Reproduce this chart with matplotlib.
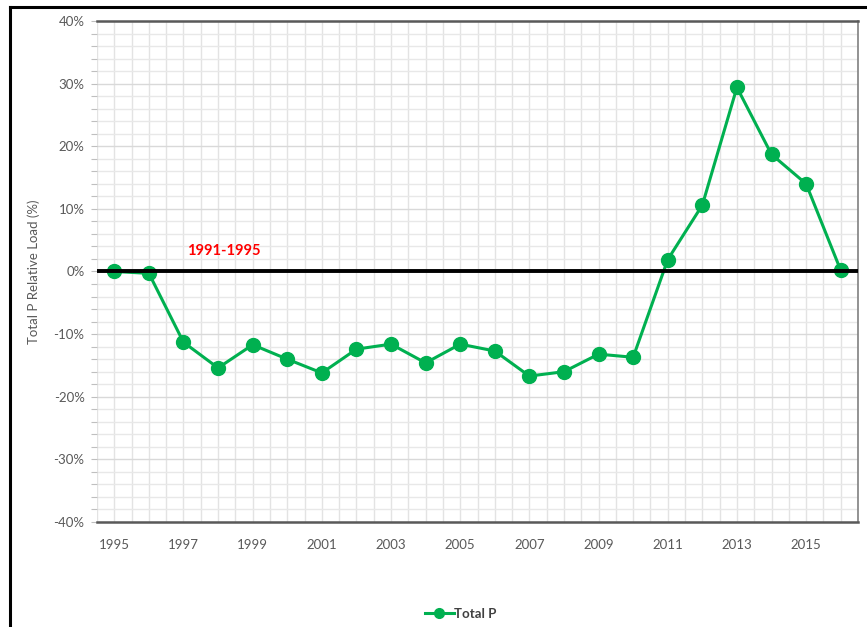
import matplotlib
matplotlib.use("Agg")
import matplotlib.pyplot as plt
from matplotlib.lines import Line2D
from matplotlib.ticker import MultipleLocator, FuncFormatter

plt.rcParams['font.family'] = ['Lato', 'DejaVu Sans']

# relative load vs. the 1991-1995 baseline, in percent
years = list(range(1995, 2017))
total_p = [0.0, -0.3, -11.3, -15.4, -11.7, -14.0, -16.2, -12.4, -11.6, -14.6, -11.6,
           -12.7, -16.7, -16.0, -13.2, -13.7, 1.9, 10.6, 29.4, 18.7, 14.0, 0.2]
tick_years = list(range(1995, 2016, 2))

green = '#00B050'
grey_txt = '#595959'

fig = plt.figure(figsize=(8.67, 6.27), dpi=100)
ax = fig.add_axes([0.1119, 0.1675, 0.8777, 0.799])

ax.plot(years, total_p, color=green, lw=2.2, marker='o', ms=10, zorder=3)
ax.axhline(0, color='black', lw=2.8, zorder=4)
ax.text(1998.15, 3.3, '1991-1995', color='#FF0000', fontsize=10.5,
        fontweight='bold', ha='center', va='center')

ax.set_xlim(1994.5, 2016.5)
ax.set_ylim(-40, 40)
ax.set_xticks(tick_years)
ax.xaxis.set_minor_locator(MultipleLocator(0.5))
ax.yaxis.set_major_locator(MultipleLocator(10))
ax.yaxis.set_minor_locator(MultipleLocator(2))
ax.yaxis.set_major_formatter(FuncFormatter(lambda v, p: f'{v:.0f}%'))

ax.grid(which='both', axis='x', color='#e3e3e3', lw=1)
ax.grid(which='major', axis='y', color='#d9d9d9', lw=1)
ax.grid(which='minor', axis='y', color='#e8e8e8', lw=1)
ax.set_axisbelow(True)

ax.tick_params(axis='x', which='both', length=0, pad=12, labelsize=9.5, labelcolor=grey_txt)
ax.tick_params(axis='y', which='both', length=4, width=0.8, color='#bfbfbf',
               pad=5, labelsize=9.5, labelcolor=grey_txt)

for side in ['top', 'bottom']:
    ax.spines[side].set_color('#595959')
    ax.spines[side].set_linewidth(1.8)
ax.spines['right'].set_color('#808080')
ax.spines['right'].set_linewidth(1.2)
ax.spines['left'].set_visible(False)

ax.set_ylabel('Total P Relative Load (%)', fontsize=9.5, color=grey_txt, labelpad=10)

handle = Line2D([], [], color=green, lw=2.2, marker='o', ms=7)
fig.legend([handle], ['Total P'], loc='center', bbox_to_anchor=(0.531, 0.021),
           frameon=False, handlelength=2.2, handletextpad=0.0,
           prop={'weight': 'bold', 'size': 9.5}, labelcolor='#404040')

# outer frame along the left and top edges
fig.add_artist(Line2D([10 / 867, 10 / 867], [0, 1 - 7 / 627], color='black', lw=2.2,
                      transform=fig.transFigure))
fig.add_artist(Line2D([10 / 867, 1], [1 - 7 / 627, 1 - 7 / 627], color='black', lw=2.2,
                      transform=fig.transFigure))

fig.savefig('out.png', dpi=100)
